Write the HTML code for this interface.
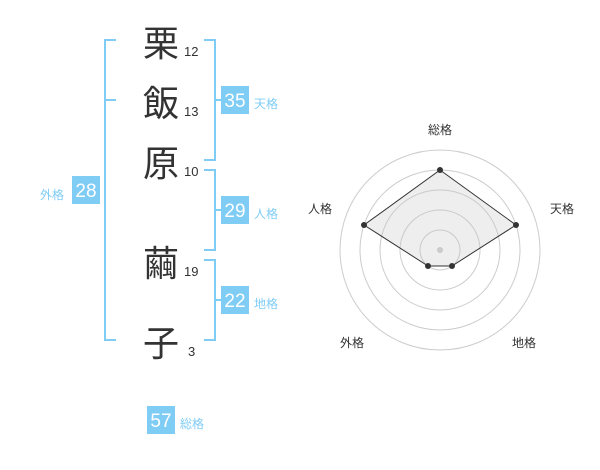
<!DOCTYPE html>
<html><head><meta charset="utf-8"><style>
body{margin:0;width:600px;height:470px;background:#fff;overflow:hidden;font-family:"Liberation Sans","Noto Sans CJK JP",sans-serif}
</style></head><body>
<svg width="600" height="470" viewBox="0 0 600 470" xmlns="http://www.w3.org/2000/svg" style="position:absolute;left:0;top:0">
<g fill="none" stroke="#7fccf5" stroke-width="2">
<path d="M116 40H105V340H116M105 100H116"/>
<path d="M204 40H215V160H204M215 100H226"/>
<path d="M204 170H215V250H204M215 210H226"/>
<path d="M204 260H215V340H204M215 300H226"/>
</g>
<g font-size="36" fill="#333" text-anchor="middle" font-family="'Noto Sans CJK JP',sans-serif">
<text x="161" y="56">栗</text>
<text x="161" y="116">飯</text>
<text x="161" y="176">原</text>
<text x="161" y="276">繭</text>
<text x="161" y="356">子</text>
</g>
<g font-size="13" fill="#333">
<text x="184" y="56">12</text>
<text x="184" y="116">13</text>
<text x="184" y="176">10</text>
<text x="184" y="276">19</text>
<text x="188" y="356">3</text>
</g>
<g fill="#7fccf5">
<rect x="221" y="86" width="28" height="28"/>
<rect x="221" y="196" width="28" height="28"/>
<rect x="221" y="286" width="28" height="28"/>
<rect x="72" y="176" width="28" height="28"/>
<rect x="147" y="406" width="28" height="28"/>
</g>
<g font-size="19" fill="#fff" text-anchor="middle">
<text x="235" y="107">35</text>
<text x="235" y="217">29</text>
<text x="235" y="307">22</text>
<text x="86" y="197">28</text>
<text x="161" y="427">57</text>
</g>
<g font-size="12" fill="#7fccf5">
<text x="254" y="108">天格</text>
<text x="254" y="218">人格</text>
<text x="254" y="308">地格</text>
<text x="40" y="199">外格</text>
<text x="180" y="428">総格</text>
</g>
<g fill="none" stroke="#ccc" stroke-width="1">
<circle cx="440" cy="250" r="20"/><circle cx="440" cy="250" r="40"/><circle cx="440" cy="250" r="60"/><circle cx="440" cy="250" r="80"/><circle cx="440" cy="250" r="100"/>
</g>
<circle cx="440" cy="250" r="3" fill="#ccc"/>
<polygon points="440,170 516,225 452,266 428,266 364,225" fill="rgba(200,200,200,0.3)" stroke="#333" stroke-width="1"/>
<g fill="#333"><circle cx="440" cy="170" r="3"/><circle cx="516" cy="225" r="3"/><circle cx="452" cy="266" r="3"/><circle cx="428" cy="266" r="3"/><circle cx="364" cy="225" r="3"/></g>
<g font-size="12" fill="#333" text-anchor="middle">
<text x="440" y="134">総格</text>
<text x="562" y="213">天格</text>
<text x="320" y="213">人格</text>
<text x="352" y="347">外格</text>
<text x="524" y="347">地格</text>
</g>
</svg>
</body></html>
